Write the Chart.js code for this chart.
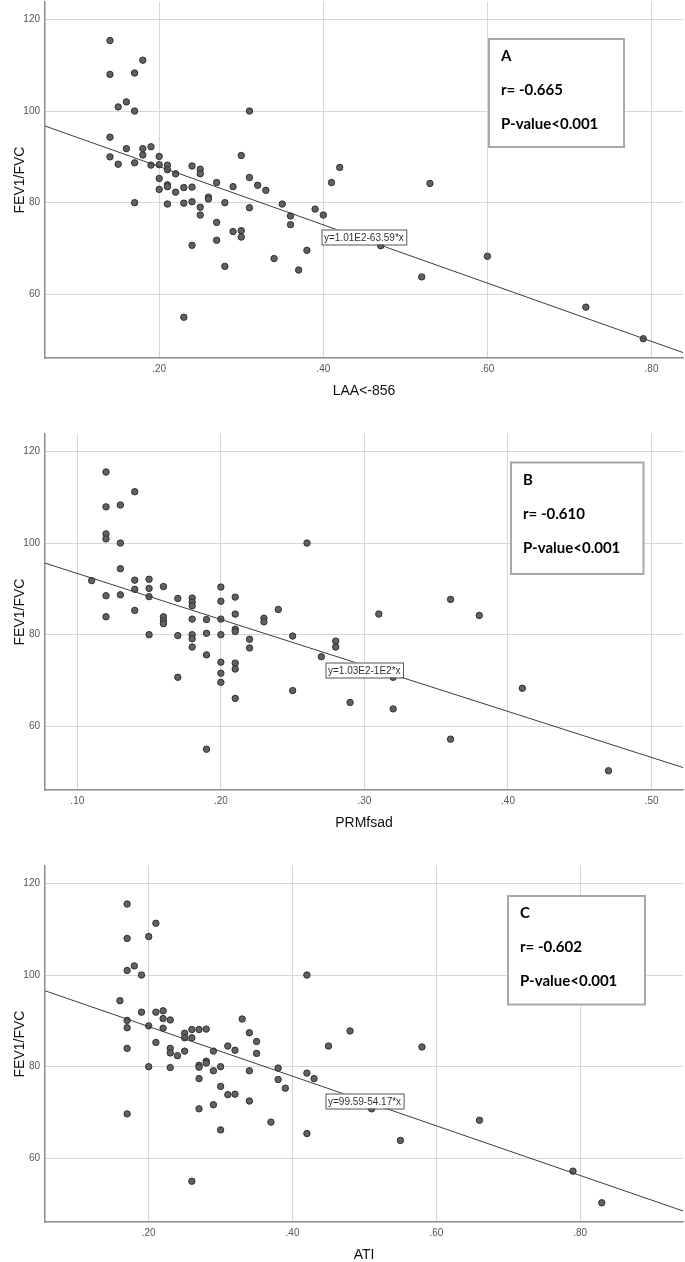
<!DOCTYPE html>
<html>
<head>
<meta charset="utf-8">
<script src="https://cdn.jsdelivr.net/npm/chart.js@4.4.1/dist/chart.umd.min.js"></script>
<style>
    html, body { margin: 0; padding: 0; background: #fff; }
    #page { position: relative; width: 685px; height: 1262px; overflow: hidden; }
    canvas { position: absolute; left: 0; }
</style>
</head>
<body>
<div id="page">
    <canvas id="laaChart" width="685" height="410" style="top:0px"></canvas>
    <canvas id="prmChart" width="685" height="410" style="top:432px"></canvas>
    <canvas id="atiChart" width="685" height="410" style="top:864px"></canvas>
</div>
<script>
// shared y axis (FEV1/FVC)
const fevTicks = [60, 80, 100, 120];

// A: LAA<-856
const laaX = [.14, .14, .18, .17, .15, .16, .17, .14, .16, .18,
    .19, .18, .14, .15, .17, .19, .20, .20, .21, .21,
    .22, .20, .20, .21, .21, .22, .23, .24, .24, .25,
    .25, .23, .24, .21, .17, .25, .25, .26, .26, .27,
    .28, .29, .30, .31, .31, .32, .33, .31, .27, .27,
    .29, .30, .30, .24, .28, .34, .35, .36, .36, .37,
    .38, .39, .40, .23, .41, .42, .47, .53, .52, .60,
    .72, .79];
const laaY = [115.4, 108.0, 111.1, 108.3, 100.9, 102.0, 100.0, 94.3, 91.8, 91.8,
    92.2, 90.4, 90.0, 88.4, 88.7, 88.2, 90.1, 88.3, 88.2, 87.2,
    86.3, 85.3, 82.9, 83.9, 83.5, 82.3, 83.3, 88.0, 83.4, 87.3,
    86.3, 79.9, 80.2, 79.7, 80.0, 79.0, 77.3, 81.2, 80.8, 84.4,
    80.0, 83.5, 90.3, 100.0, 85.5, 83.8, 82.7, 78.9, 75.7, 71.8,
    73.7, 73.9, 72.5, 70.7, 66.1, 67.8, 79.7, 77.1, 75.2, 65.3,
    69.6, 78.6, 77.3, 55.0, 84.4, 87.7, 70.6, 84.2, 63.8, 68.3,
    57.2, 50.3];
const laaTicks = [.20, .40, .60, .80];
const laaFit = [100.6, -63.59];
const laaNotes = ['A', 'r= -0.665', 'P-value<0.001'];

// B: PRMfsad
const prmX = [.12, .12, .13, .14, .12, .12, .13, .13, .11, .14,
    .15, .14, .15, .12, .13, .15, .16, .17, .18, .18,
    .18, .20, .20, .21, .12, .14, .16, .16, .16, .18,
    .19, .20, .21, .15, .17, .18, .18, .18, .19, .20,
    .21, .21, .22, .22, .23, .23, .24, .25, .19, .20,
    .20, .20, .21, .21, .17, .21, .25, .26, .27, .19,
    .29, .28, .28, .31, .32, .32, .36, .38, .36, .41,
    .47];
const prmY = [115.5, 107.9, 108.3, 111.2, 102.0, 100.9, 100.0, 94.4, 91.8, 91.9,
    92.1, 89.9, 90.1, 88.5, 88.7, 88.3, 90.5, 87.9, 88.0, 87.1,
    86.3, 90.4, 87.3, 88.2, 83.9, 85.3, 83.9, 83.0, 82.4, 83.4,
    83.3, 83.4, 84.5, 80.0, 79.8, 80.0, 79.1, 77.3, 80.3, 80.0,
    81.2, 80.7, 79.0, 77.1, 83.6, 82.8, 85.5, 79.7, 75.6, 74.0,
    71.6, 69.6, 73.8, 72.5, 70.7, 66.1, 67.8, 100.0, 75.2, 55.0,
    65.2, 78.6, 77.3, 84.5, 70.7, 63.8, 87.7, 84.2, 57.2, 68.3,
    50.3];
const prmTicks = [.10, .20, .30, .40, .50];
const prmFit = [103.4, -100.4];
const prmNotes = ['B', 'r= -0.610', 'P-value<0.001'];

// C: ATI
const atiX = [.17, .17, .21, .20, .17, .18, .19, .42, .16, .19,
    .21, .22, .22, .23, .17, .17, .20, .22, .25, .25,
    .26, .26, .27, .28, .33, .34, .35, .21, .17, .23,
    .23, .24, .25, .29, .31, .32, .35, .20, .23, .27,
    .27, .28, .28, .30, .29, .34, .38, .38, .27, .42,
    .43, .39, .30, .31, .32, .34, .29, .27, .17, .37,
    .30, .42, .26, .45, .48, .58, .51, .55, .66, .79,
    .83];
const atiY = [115.5, 108.0, 111.3, 108.4, 101.0, 102.0, 100.0, 100.0, 94.4, 91.9,
    91.9, 92.2, 90.5, 90.2, 90.1, 88.5, 88.9, 88.4, 87.3, 86.3,
    88.1, 86.3, 88.1, 88.2, 90.4, 87.4, 85.5, 85.3, 84.0, 84.0,
    83.0, 82.4, 83.4, 83.4, 84.5, 83.6, 82.9, 80.0, 79.8, 80.3,
    79.9, 81.2, 80.8, 80.0, 79.1, 79.1, 79.7, 77.2, 77.4, 78.6,
    77.4, 75.3, 75.7, 73.9, 74.0, 72.5, 71.7, 70.8, 69.7, 67.9,
    66.2, 65.4, 55.0, 84.5, 87.8, 84.3, 70.8, 63.9, 68.3, 57.2,
    50.3];
const atiTicks = [.20, .40, .60, .80];
const atiFit = [99.59, -54.17];
const atiNotes = ['C', 'r= -0.602', 'P-value<0.001'];

const tickFont = {family: "'Liberation Sans Narrow', 'Liberation Sans', Arial, sans-serif", size: 10};
const titleFamily = "'Liberation Sans', Arial, sans-serif";

// draws the equation label and the r / p box on top of the plot
const notesPlugin = {
    id: 'panelNotes',
    afterDatasetsDraw(chart, args, opts) {
        const ctx = chart.ctx;
        ctx.save();

        ctx.font = '10px ' + titleFamily;
        let w = ctx.measureText(opts.equation).width + 5;
        ctx.fillStyle = '#fff';
        ctx.fillRect(opts.eqLeft, opts.eqTop, w, 15);
        ctx.strokeStyle = '#555';
        ctx.lineWidth = 1;
        ctx.strokeRect(opts.eqLeft + 0.5, opts.eqTop + 0.5, w, 15);
        ctx.fillStyle = '#333';
        ctx.textBaseline = 'middle';
        ctx.fillText(opts.equation, opts.eqLeft + 2.5, opts.eqTop + 8.5);

        ctx.fillStyle = '#fff';
        ctx.fillRect(opts.boxLeft, opts.boxTop, opts.boxWidth, opts.boxHeight);
        ctx.strokeStyle = '#a8a8a8';
        ctx.lineWidth = 2;
        ctx.strokeRect(opts.boxLeft, opts.boxTop, opts.boxWidth, opts.boxHeight);
        ctx.fillStyle = '#000';
        ctx.font = 'bold 15px Lato, "Open Sans", sans-serif';
        for (let i = 0; i < opts.lines.length; i++) {
            ctx.fillText(opts.lines[i], opts.boxLeft + 12, opts.boxTop + 17.5 + i * 34);
        }

        ctx.restore();
    }
};

function toPoints(xs, ys) {
    let points = [];
    for (let i = 0; i < xs.length; i++) {
        points[i] = {x: xs[i], y: ys[i]};
    }
    return points;
}

function fitPoints(fit, xMin, xMax) {
    return [{x: xMin, y: fit[0] + fit[1] * xMin}, {x: xMax, y: fit[0] + fit[1] * xMax}];
}

function formatTick(value) {
    return value.toFixed(2).replace(/^0/, '');
}

function createChart(elem, p) {
    return new Chart(elem, {
        type: 'scatter',
        data: {
            datasets: [{
                data: fitPoints(p.fit, p.xMin, p.xMax),
                showLine: true,
                borderColor: '#3c3c3c',
                borderWidth: 1,
                pointRadius: 0
            }, {
                data: toPoints(p.xs, p.ys),
                backgroundColor: '#616161',
                borderColor: '#303030',
                borderWidth: 1,
                pointRadius: 3.2
            }]
        },
        options: {
            responsive: false,
            animation: false,
            layout: {autoPadding: false, padding: {top: 2, right: 2, left: 0, bottom: 0}},
            plugins: {
                legend: {display: false},
                tooltip: {enabled: false},
                panelNotes: p.notes
            },
            scales: {
                x: {
                    type: 'linear',
                    min: p.xMin,
                    max: p.xMax,
                    afterBuildTicks: s => { s.ticks = p.xTicks.map(v => ({value: v})); },
                    afterFit: s => {
                        s.height = 52;
                        s.paddingLeft = 0;
                        s.paddingRight = 0;
                    },
                    grid: {color: '#d6d6d6', drawTicks: false},
                    border: {color: '#8c8c8c', width: 1.5},
                    ticks: {padding: 5, color: '#555', font: tickFont, callback: v => formatTick(v)},
                    title: {display: true, text: p.xTitle, color: '#111',
                        font: {family: titleFamily, size: 14}, padding: {top: 0, bottom: 10}}
                },
                y: {
                    min: 46.1,
                    max: 123.8,
                    afterBuildTicks: s => { s.ticks = fevTicks.map(v => ({value: v})); },
                    afterFit: s => {
                        s.width = 45;
                        s.paddingTop = 0;
                        s.paddingBottom = 0;
                    },
                    grid: {color: '#d6d6d6', drawTicks: false},
                    border: {color: '#8c8c8c', width: 1.5},
                    ticks: {padding: 5, color: '#555', font: tickFont},
                    title: {display: true, text: 'FEV1/FVC', color: '#111',
                        font: {family: titleFamily, size: 14}, padding: {top: 11.6, bottom: 0}}
                }
            }
        },
        plugins: [notesPlugin]
    });
}

createChart(document.getElementById('laaChart'), {
    xs: laaX, ys: laaY, xTicks: laaTicks, fit: laaFit,
    xMin: 0.0608, xMax: 0.8384, xTitle: 'LAA<-856',
    notes: {equation: 'y=1.01E2-63.59*x', eqLeft: 321.5, eqTop: 229.5,
        lines: laaNotes, boxLeft: 489, boxTop: 39, boxWidth: 135, boxHeight: 108}
});

createChart(document.getElementById('prmChart'), {
    xs: prmX, ys: prmY, xTicks: prmTicks, fit: prmFit,
    xMin: 0.0775, xMax: 0.5219, xTitle: 'PRMfsad',
    notes: {equation: 'y=1.03E2-1E2*x', eqLeft: 325.5, eqTop: 230.5,
        lines: prmNotes, boxLeft: 511, boxTop: 30.5, boxWidth: 132.5, boxHeight: 111.5}
});

createChart(document.getElementById('atiChart'), {
    xs: atiX, ys: atiY, xTicks: atiTicks, fit: atiFit,
    xMin: 0.0558, xMax: 0.943, xTitle: 'ATI',
    notes: {equation: 'y=99.59-54.17*x', eqLeft: 325.5, eqTop: 229.5,
        lines: atiNotes, boxLeft: 508, boxTop: 32, boxWidth: 137, boxHeight: 108.5}
});
</script>
</body>
</html>
